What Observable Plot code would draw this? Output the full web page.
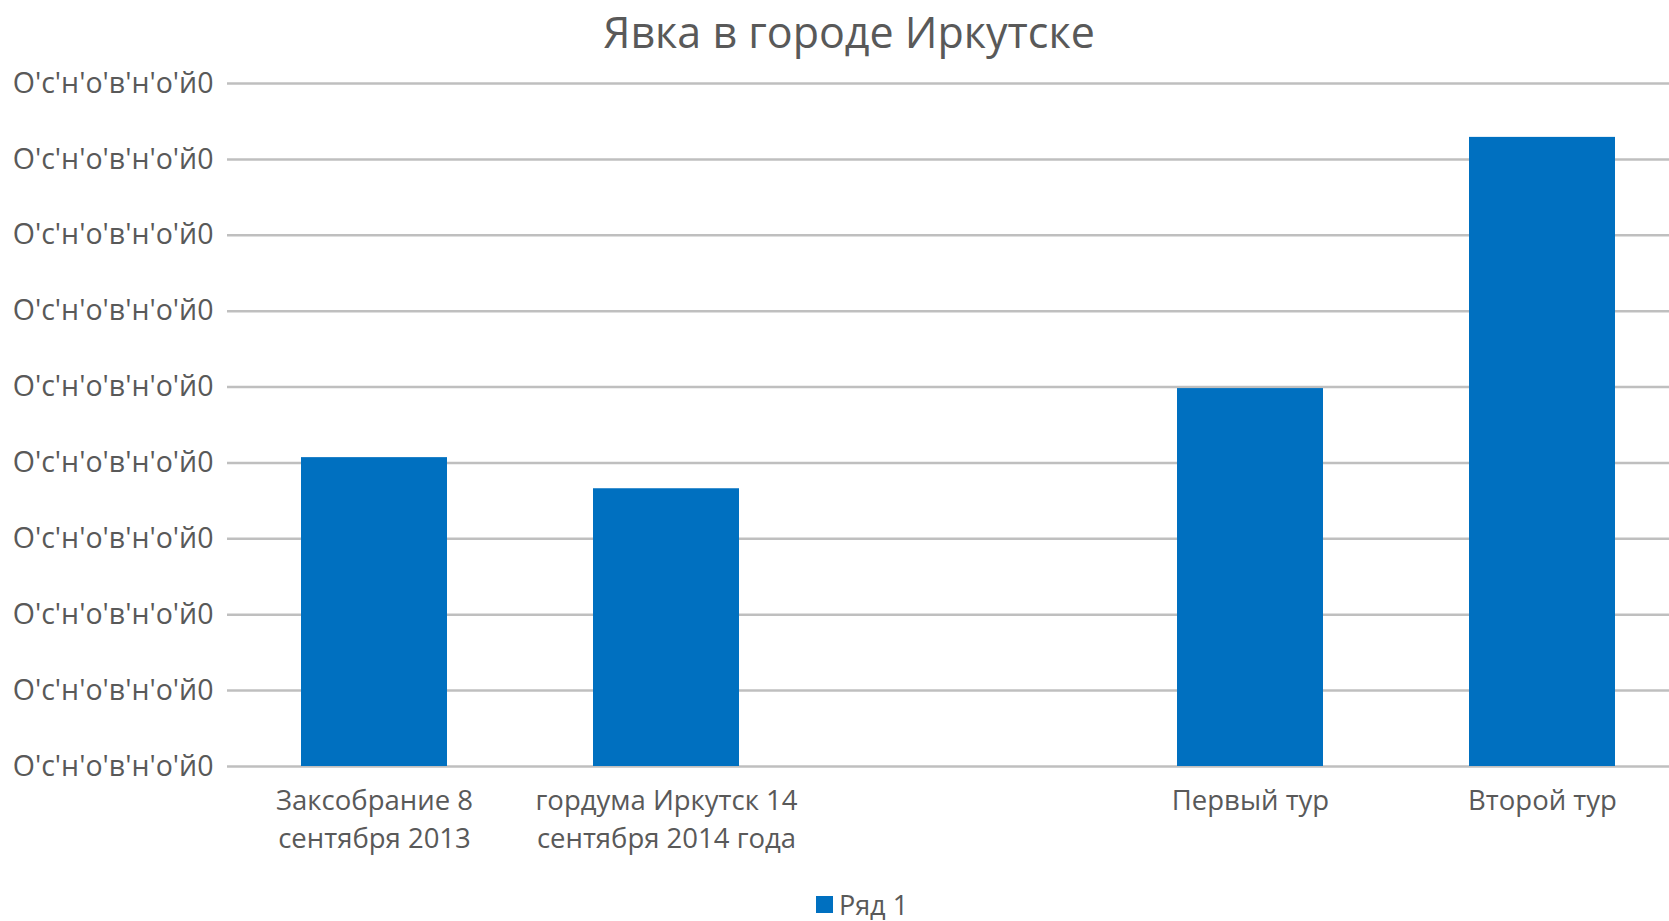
<!DOCTYPE html>
<html>
<head>
<meta charset="utf-8">
<script src="https://cdn.jsdelivr.net/npm/d3@7"></script>
<script src="https://cdn.jsdelivr.net/npm/@observablehq/plot@0.6"></script>
<style>
  html, body { margin: 0; padding: 0; background: #ffffff; }
  body { width: 1669px; height: 921px; overflow: hidden; font-family: "Open Sans", sans-serif; }
  #title { height: 64px; line-height: 64px; text-align: center; font-size: 43px; color: #595959; padding-left: 29px; }
  #legend { height: 40px; display: flex; align-items: center; justify-content: center; font-size: 27px; color: #595959; padding-left: 55px; }
  #legend .sw { width: 17px; height: 17px; background: #0070c0; margin-right: 6px; }
  svg { display: block; overflow: visible; }
</style>
</head>
<body>
<div id="title">Явка в городе Иркутске</div>
<div id="chart"></div>
<div id="legend"><span class="sw"></span><span>Ряд 1</span></div>
<script>
const categories = [
  "Заксобрание 8\nсентября 2013",
  "гордума Иркутск 14\nсентября 2014 года",
  " ",
  "Первый тур",
  "Второй тур"
];
const values = [4.07, 3.66, null, 4.98, 8.29];
const yTicks = [0, 1, 2, 3, 4, 5, 6, 7, 8, 9];
const yTickLabel = "O'c'н'o'в'н'o'й0";
const seriesName = "Ряд 1";

const data = categories.map((c, i) => ({category: c, value: values[i], series: seriesName}));

const chart = Plot.plot({
  width: 1669,
  height: 820,
  marginTop: 19,
  marginBottom: 118,
  marginLeft: 227,
  marginRight: 0,
  style: {fontFamily: "Open Sans, sans-serif", color: "#595959", background: "#ffffff", overflow: "visible"},
  x: {domain: categories, range: [227, 1689], paddingInner: 0.5, paddingOuter: 0.25, label: null},
  y: {domain: [0, 9], label: null},
  marks: [
    Plot.ruleY(yTicks, {stroke: "#bfbfbf", strokeWidth: 2.5}),
    Plot.barY(data.filter(d => d.value != null), {x: "category", y: "value", fill: "#0070c0"}),
    Plot.axisY(yTicks, {tickSize: 0, tickPadding: 14, fontSize: 28.5, tickFormat: () => yTickLabel, label: null, fill: "#595959"}),
    Plot.axisX({tickSize: 0, tickPadding: 16, fontSize: 27.5, lineHeight: 1.39, label: null, fill: "#595959"})
  ]
});
document.getElementById("chart").appendChild(chart);
</script>
</body>
</html>
